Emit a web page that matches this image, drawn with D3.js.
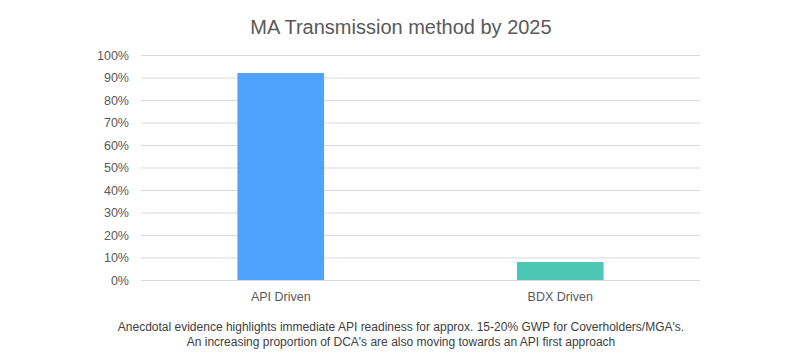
<!DOCTYPE html>
<html><head><meta charset="utf-8">
<script src="https://cdn.jsdelivr.net/npm/d3@7"></script>
<style>body{margin:0;background:#fff;}svg{display:block;font-family:"Liberation Sans",Arial,sans-serif;}</style>
</head><body>
<svg id="c" width="803" height="360"></svg>
<script>
const categories = ["API Driven", "BDX Driven"];
const values = [0.92, 0.08];
const colors = ["#50A2FC", "#4CC7B6"];
const yTicks = [0,0.1,0.2,0.3,0.4,0.5,0.6,0.7,0.8,0.9,1.0];
const title = "MA Transmission method by 2025";
const notes = ["Anecdotal evidence highlights immediate API readiness for approx. 15-20% GWP for Coverholders/MGA's.",
               "An increasing proportion of DCA's are also moving towards an API first approach"];

const svg = d3.select("#c");
const plotLeft = 141, plotRight = 700, plotTop = 55, plotBottom = 280;
const x = d3.scaleBand().domain(categories).range([plotLeft, plotRight]).paddingInner(0.69).paddingOuter(0.345);
const y = d3.scaleLinear().domain([0, 1]).range([plotBottom, plotTop]);

svg.append("text").attr("x", 401).attr("y", 34).attr("text-anchor", "middle")
  .attr("font-size", 20).attr("fill", "#595959").text(title);

const yAxis = svg.append("g").attr("transform", `translate(${plotLeft},0)`)
  .call(d3.axisLeft(y).tickValues(yTicks).tickFormat(d3.format(".0%")).tickSize(-(plotRight-plotLeft)).tickPadding(12));
yAxis.select(".domain").remove();
yAxis.selectAll("line").attr("stroke", "#d9d9d9").attr("stroke-width", 1.2);
yAxis.selectAll("text").attr("font-size", 12.5).attr("fill", "#595959").attr("font-family", "Liberation Sans, Arial, sans-serif");

svg.selectAll("rect.bar").data(values).join("rect").attr("class", "bar")
  .attr("x", (d, i) => x(categories[i])).attr("width", x.bandwidth())
  .attr("y", d => y(d)).attr("height", d => plotBottom - y(d))
  .attr("fill", (d, i) => colors[i]);

const xAxis = svg.append("g").attr("transform", `translate(0,${plotBottom})`)
  .call(d3.axisBottom(x).tickSize(0).tickPadding(12));
xAxis.select(".domain").remove();
xAxis.selectAll("text").attr("font-size", 12.5).attr("fill", "#595959").attr("font-family", "Liberation Sans, Arial, sans-serif");

svg.selectAll("text.note").data(notes).join("text").attr("class", "note")
  .attr("x", 401).attr("y", (d, i) => 331 + i * 15).attr("text-anchor", "middle")
  .attr("font-size", 12).attr("fill", "#404040").text(d => d);
</script>
</body></html>
